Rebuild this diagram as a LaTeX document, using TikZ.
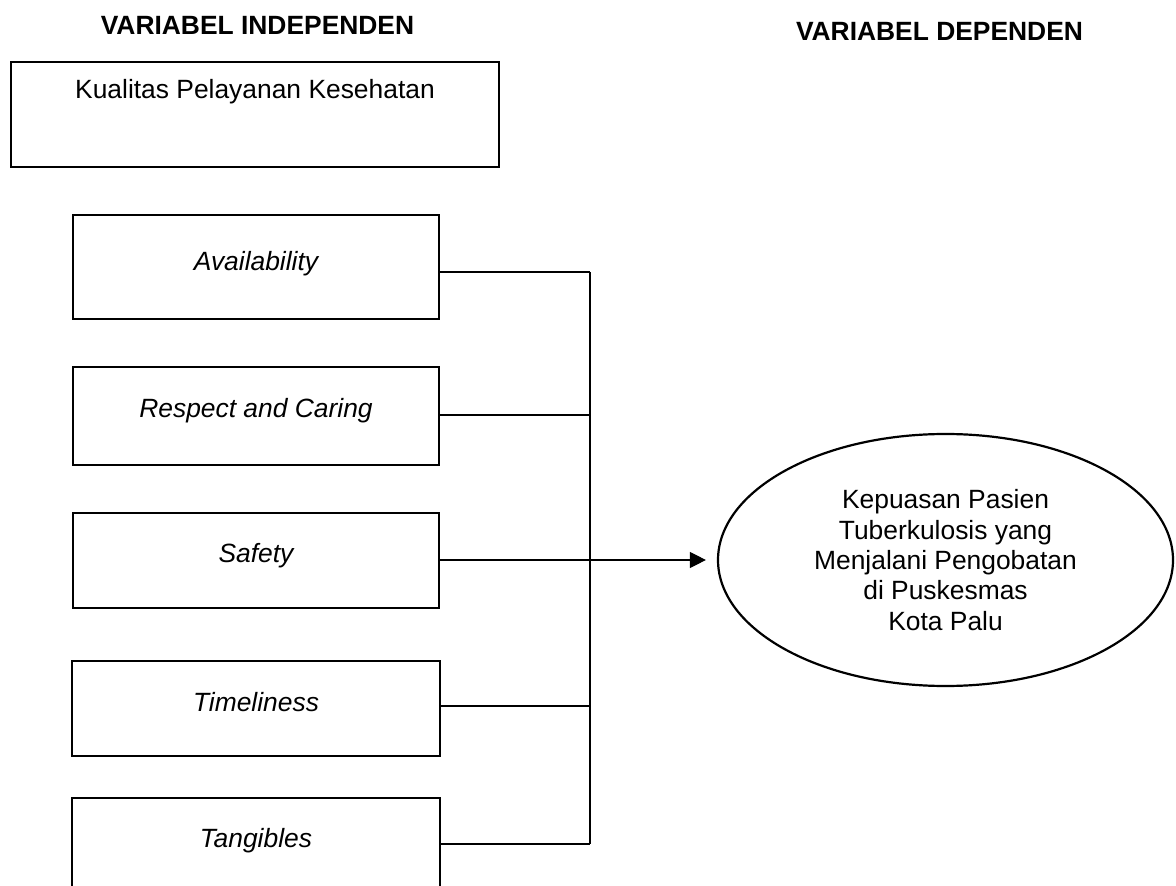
\documentclass[tikz,border=0pt]{standalone}
\usepackage{fontspec}
\setmainfont{Liberation Sans}
\usetikzlibrary{shapes.geometric,arrows.meta}
\tikzset{
  varbox/.style={draw=black, line width=1.4pt, rectangle, inner sep=0pt},
  lbl/.style={anchor=base, inner sep=0pt, font=\fontsize{13.2pt}{15.18pt}\selectfont},
  ilbl/.style={lbl, font=\fontsize{13.2pt}{15.18pt}\selectfont\itshape},
  ttl/.style={lbl, font=\fontsize{13.2pt}{15.18pt}\selectfont\bfseries},
  conn/.style={draw=black, line width=0.6pt},
  dep/.style={draw=black, line width=1.1pt, ellipse, inner sep=0pt, align=center,
    font=\fontsize{13.2pt}{15.18pt}\selectfont}
}
\begin{document}
\begin{tikzpicture}[x=0.5pt,y=-0.5pt]
\useasboundingbox (0,0) rectangle (1176,886);
\fill[white] (0,0) rectangle (1176,886);
\clip (0,0) rectangle (1176,886);

% titles
\node[ttl] (tind) at (257.5,35) {VARIABEL INDEPENDEN};
\node[ttl] (tdep) at (939.5,41) {VARIABEL DEPENDEN};

% top box
\node[varbox, minimum width=244pt, minimum height=52.5pt] (kual) at (255,114.5) {};
\node[lbl] (kualt) at (255,99) {Kualitas Pelayanan Kesehatan};

% dimension boxes
\node[varbox, minimum width=183pt, minimum height=52pt] (avail) at (256,267) {};
\node[ilbl] (availt) at (256,271) {Availability};

\node[varbox, minimum width=183pt, minimum height=49pt] (resp) at (256,416) {};
\node[ilbl] (respt) at (256,418) {Respect and Caring};

\node[varbox, minimum width=183pt, minimum height=47.5pt] (safe) at (256,560.5) {};
\node[ilbl] (safet) at (256,562) {Safety};

\node[varbox, minimum width=184pt, minimum height=47.5pt] (time) at (256,708.5) {};
\node[ilbl] (timet) at (256,711) {Timeliness};

\node[varbox, minimum width=184pt, minimum height=50pt] (tang) at (256,848) {};
\node[ilbl] (tangt) at (256,847) {Tangibles};

% dependent ellipse
\node[dep, minimum width=227.5pt, minimum height=126pt] (kep) at (945.5,560)
  {Kepuasan Pasien\\Tuberkulosis yang\\Menjalani Pengobatan\\di Puskesmas\\Kota Palu};

% bus coordinates
\coordinate (b1) at (590,272);
\coordinate (b2) at (590,415);
\coordinate (b3) at (590,560);
\coordinate (b4) at (590,706);
\coordinate (b5) at (590,844);

\draw[conn] (b1 -| avail.east) -- (b1);
\draw[conn] (b2 -| resp.east) -- (b2);
\draw[conn] (b3 -| safe.east) -- (b3);
\draw[conn] (b4 -| time.east) -- (b4);
\draw[conn] (b5 -| tang.east) -- (b5);
\draw[conn] (b1) -- (b5);

\draw[conn, -{Triangle[length=8pt, width=8pt]}] (b3) -- ([xshift=-5.5pt]kep.west);
\end{tikzpicture}
\end{document}
